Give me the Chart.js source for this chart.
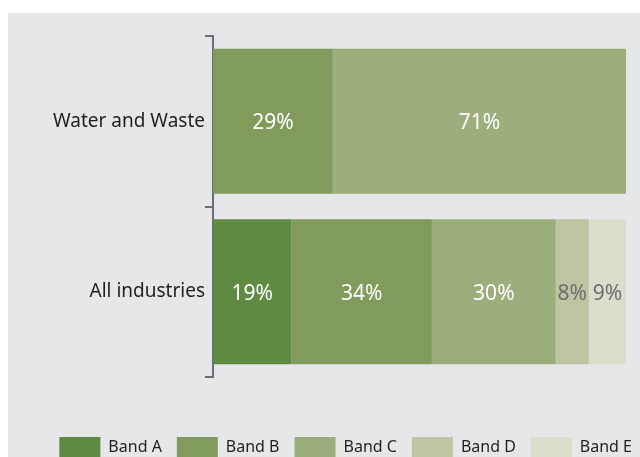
<!DOCTYPE html>
<html lang="en">
<head>
  <meta charset="UTF-8">
  <title>Bands by industry</title>
  <script src="https://cdn.jsdelivr.net/npm/chart.js"></script>
  <style>
    html, body { margin: 0; padding: 0; background: #fff; overflow: hidden; }
    #panel { position: absolute; left: 8px; top: 13px; width: 632px; height: 454px; background: #e6e7e9; }
  </style>
</head>
<body>
  <div id="panel"><canvas id="chartCanvas"></canvas></div>

  <script>
    // Data
    const categories = ['Water and Waste', 'All industries'];
    const bandNames = ['Band A', 'Band B', 'Band C', 'Band D', 'Band E'];
    const bandA = [0, 19];
    const bandB = [29, 34];
    const bandC = [71, 30];
    const bandD = [0, 8];
    const bandE = [0, 9];

    const colors = ['#5f8a42', '#819b5c', '#9dae7d', '#bdc5a3', '#d9dfcc'];
    const labelColors = ['#ffffff', '#ffffff', '#ffffff', '#6d6e71', '#6d6e71'];
    const FONT = "'Noto Sans', sans-serif";

    // Percent labels drawn in the middle of each segment
    const segmentLabels = {
      id: 'segmentLabels',
      afterDatasetsDraw(chart) {
        const ctx = chart.ctx;
        ctx.save();
        ctx.font = '21px ' + FONT;
        ctx.textAlign = 'center';
        ctx.textBaseline = 'middle';
        chart.data.datasets.forEach((ds, i) => {
          chart.getDatasetMeta(i).data.forEach((bar, j) => {
            const v = ds.data[j];
            if (!v) return;
            ctx.fillStyle = labelColors[i];
            const x = (bar.x + bar.base) / 2;
            ctx.fillText(v + '%', x, bar.y + 2);
          });
        });
        ctx.restore();
      }
    };

    // Push the legend row to the right edge of the panel
    const legendShift = {
      id: 'legendShift',
      afterLayout(chart) {
        chart.legend.left += 21;
        chart.legend.right += 21;
      }
    };

    const values = [bandA, bandB, bandC, bandD, bandE];
    const chart = new Chart(document.getElementById('chartCanvas'), {
      type: 'bar',
      data: {
        labels: categories,
        datasets: bandNames.map((name, i) => ({
          label: name,
          data: values[i],
          backgroundColor: colors[i],
          borderWidth: 0,
          categoryPercentage: 0.85,
          barPercentage: 1
        }))
      },
      options: {
        indexAxis: 'y',
        responsive: true,
        maintainAspectRatio: false,
        animation: false,
        layout: { padding: { top: 23, right: 14, left: 0, bottom: 0 } },
        scales: {
          x: {
            stacked: true, min: 0, max: 100,
            grid: { display: false },
            border: { display: false },
            ticks: { display: false },
            afterFit: (scale) => { scale.height = 45; }
          },
          y: {
            stacked: true,
            grid: { drawOnChartArea: false, drawTicks: true, tickLength: 8, color: '#6d6e71', lineWidth: 2 },
            border: { display: true, color: '#6d6e71', width: 2 },
            ticks: { color: '#231f20', padding: 0, font: { family: FONT, size: 19 } },
            afterFit: (scale) => { scale.width = 205; }
          }
        },
        plugins: {
          tooltip: { enabled: false },
          legend: {
            position: 'bottom',
            align: 'end',
            labels: {
              boxWidth: 41,
              boxHeight: 20,
              padding: 15,
              color: '#231f20',
              font: { family: FONT, size: 16 }
            }
          }
        }
      },
      plugins: [segmentLabels, legendShift]
    });
  </script>
</body>
</html>
